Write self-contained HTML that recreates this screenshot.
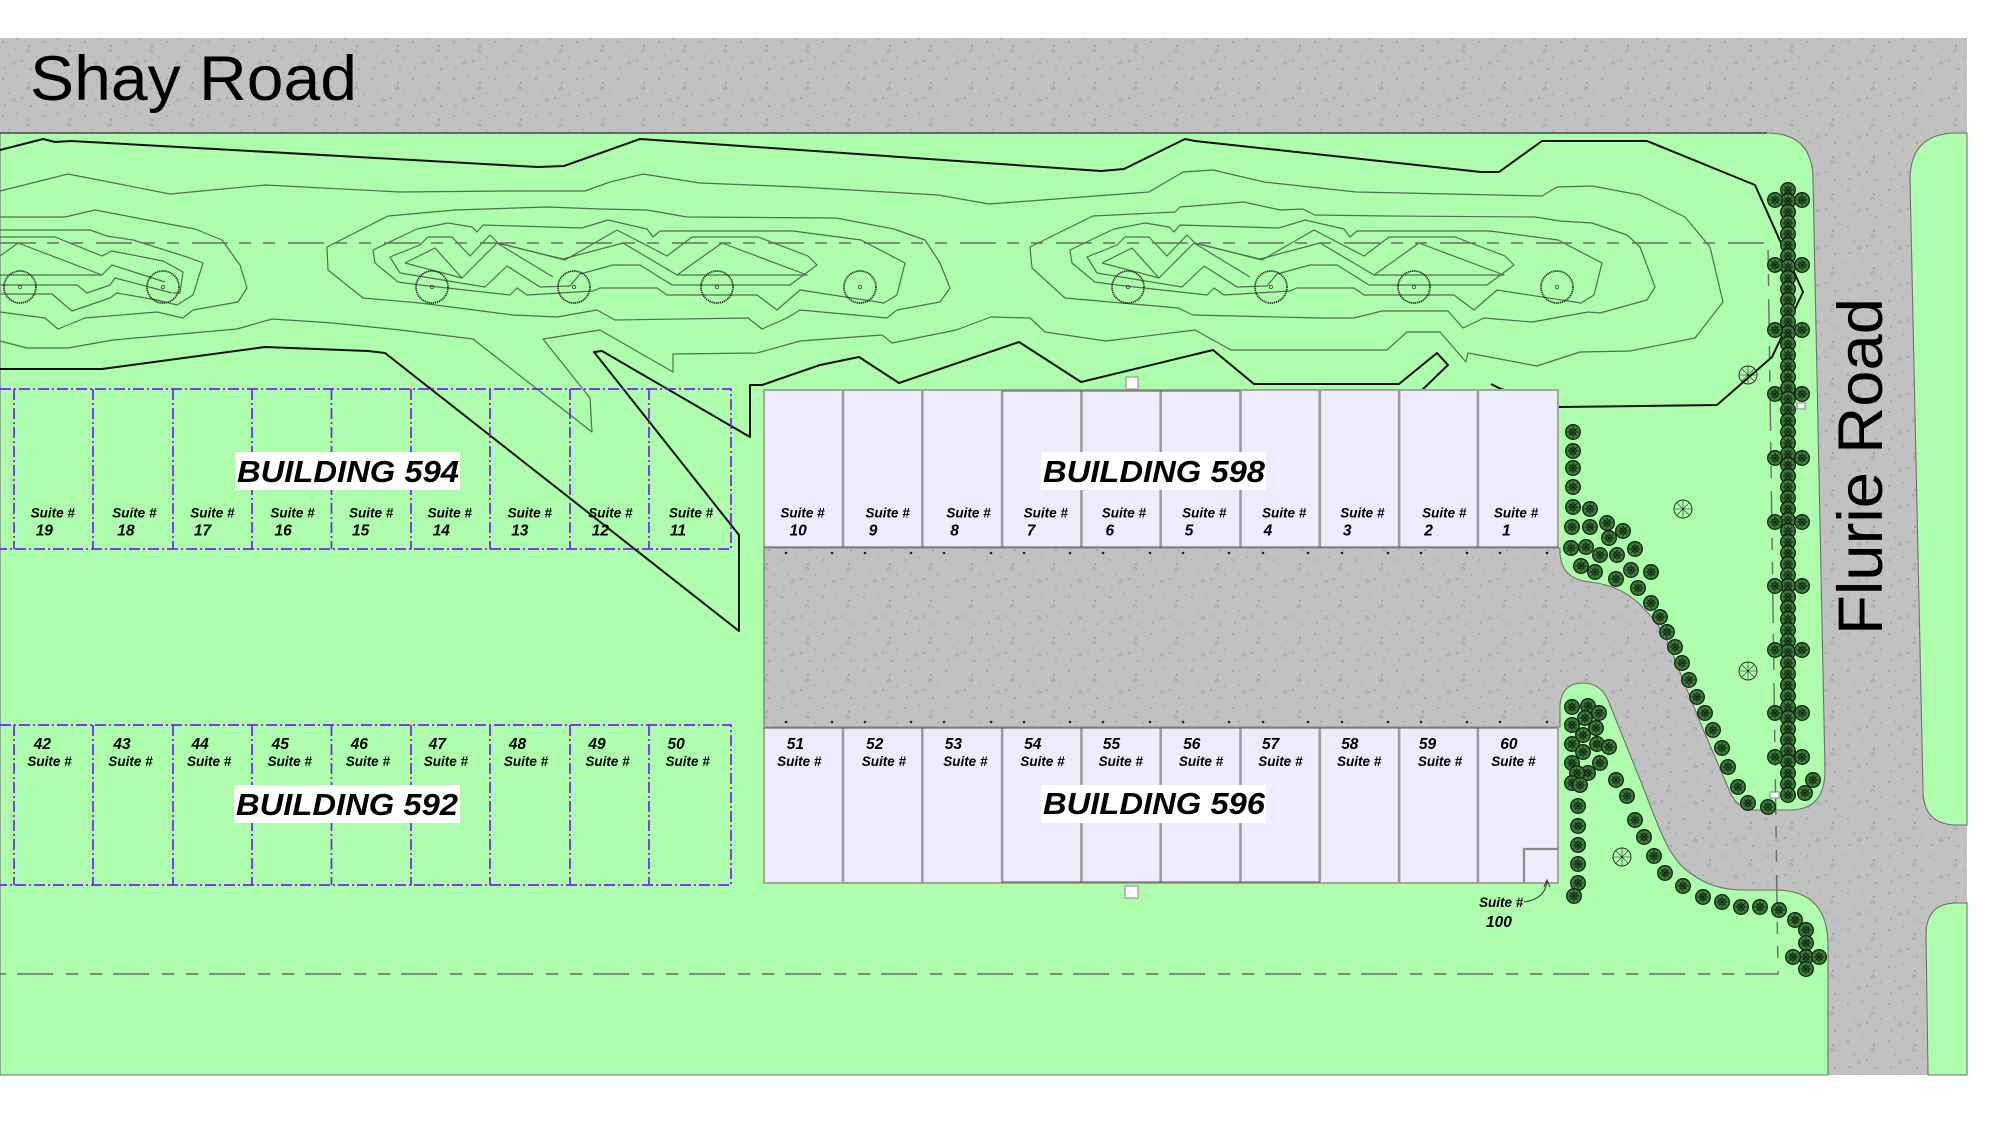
<!DOCTYPE html>
<html><head><meta charset="utf-8"><style>
html,body{margin:0;padding:0;background:#fff;}
svg{display:block;}
.c{fill:none;stroke:#4f6f4f;stroke-width:1.2;stroke-linejoin:round}
.t{fill:none;stroke:#111;stroke-width:2;stroke-linejoin:round}
.dd{fill:none;stroke:#7d1df2;stroke-width:1.7;stroke-dasharray:11 3 2 3}
.st{font-family:"Liberation Sans",Arial,sans-serif;font-weight:bold;font-style:italic;font-size:13.5px;fill:#000}
.nm{font-family:"Liberation Sans",Arial,sans-serif;font-weight:bold;font-style:italic;font-size:15.5px;fill:#000}
.bl{font-family:"Liberation Sans Narrow","Liberation Sans",Arial,sans-serif;font-weight:bold;font-style:italic;font-size:31px;fill:#000}
.rd{font-family:"Liberation Sans",Arial,sans-serif;font-size:63px;fill:#000}
</style></head><body>
<svg width="2000" height="1125" viewBox="0 0 2000 1125" xmlns="http://www.w3.org/2000/svg">
<defs>
<pattern id="sp" patternUnits="userSpaceOnUse" width="41" height="37">
<rect width="41" height="37" fill="#c1c1c1"/>
<g fill="#8e8e8e">
<circle cx="3" cy="5" r=".8"/><circle cx="17" cy="2" r=".6"/><circle cx="29" cy="9" r=".9"/><circle cx="9" cy="19" r=".6"/><circle cx="22" cy="24" r=".8"/><circle cx="36" cy="20" r=".6"/><circle cx="5" cy="31" r=".7"/><circle cx="31" cy="32" r=".8"/><circle cx="15" cy="12" r=".5"/><circle cx="38" cy="3" r=".5"/>
</g>
<g fill="none" stroke="#9a9a9a" stroke-width=".6"><path d="M12,27 l2,-3 l2,3z"/><path d="M26,15 l2,-3 l2,3z"/></g>
</pattern>
<g id="sh"><circle r="7.3" fill="#3f7c3f" stroke="#0c220c" stroke-width="1.3"/><circle r="3.2" fill="none" stroke="#0c220c" stroke-width=".9"/><path d="M-5.5,0H5.5M0,-5.5V5.5M-3.8,-3.8L3.8,3.8M-3.8,3.8L3.8,-3.8" stroke="#0c220c" stroke-width=".7"/></g>
<g id="ot"><circle r="9" fill="none" stroke="#222" stroke-width=".9"/><path d="M-9,0H9M0,-9V9M-6.4,-6.4L6.4,6.4M-6.4,6.4L6.4,-6.4" stroke="#222" stroke-width=".6"/></g>
<g id="bt"><circle r="16" fill="none" stroke="#222" stroke-width="1.7" stroke-dasharray="1.3 .8"/><circle r="1.6" fill="none" stroke="#333" stroke-width=".7"/></g>
<g id="b2">
<path class="c" d="M375,263 L373,250 L400,237 L417,229 L448,223 L472,227 L477,232 L483,225 L582,228 L608,220 L647,229 L653,237 L660,231 L793,231 L861,240 L905,263 L897,295 L884,303 L800,290 L777,310 L757,295 L667,295 L657,288 L600,288 L593,291 L527,295 L517,288 L510,295 L420,285 L398,282 Z"/>
<path class="c" d="M390,257 L420,245 L428,237 L452,237 L470,256 L490,235 L498,243 L565,260 L617,230 L667,256 L692,237 L758,237 L808,256 L817,265 L790,285 L672,285 L640,265 L613,265 L580,274 L570,286 L540,287 L507,266 L485,287 L400,273 Z"/>
<path class="c" d="M405,263 L435,248 L462,278 L497,243 L553,277 M405,263 L462,278 M497,243 L563,259 L623,243 L677,275 L722,243 L807,275 L677,275"/>
</g>
</defs>

<!-- road base -->
<rect x="0" y="38" width="1967" height="1037" fill="url(#sp)"/>

<!-- green areas -->
<g fill="#adfdad" stroke="#6f6f6f" stroke-width="1.1">
<path d="M0,133 H1767 Q1813,133 1813,180 L1825,770 Q1825,810 1790,810 H1755 Q1738,810 1730,792 L1700,722 L1675,660 Q1664,628 1645,610 Q1625,586 1590,582 Q1561,579 1560,553 V548 H764 V727 H1560 V705 Q1562,683 1583,683 Q1600,683 1608,700 L1643,787 C1658,825 1668,858 1690,873 C1705,884 1720,890 1745,890 H1777 Q1828,891 1828,945 V1075 H0 Z"/>
<path d="M1957,133 H1967 V825 H1957 Q1923,825 1923,790 L1910,180 Q1910,133 1957,133 Z"/>
<path d="M1967,903 V1075 H1928 L1926,935 Q1926,903 1957,903 Z"/>
</g>
<line x1="0" y1="133" x2="1767" y2="133" stroke="#444" stroke-width="1.5"/>

<!-- contours -->
<path class="c" d="M0,191 L68,174 L170,194 L265,185 L400,192 L507,191 L585,191 L610,182 L643,174 L700,183 L800,187 L938,195 L989,204 L1149,192 L1183,172 L1213,170 L1264,182 L1356,192 L1542,196 L1557,187 L1592,186 L1640,195 L1685,217 L1710,247 L1723,302 L1695,338 L1630,351 L1580,352 L1537,366 L1468,353 L1466,362 L1440,332 L1407,332 L1387,350 L1231,350 L1195,330 L1106,341 L1045,332 L1030,318 L991,317 L956,330 L892,343 L882,335 L800,341 L757,353 L673,354 L673,372 L600,330 L543,339 L590,398 L592,432 L473,339 L400,330 L333,323 L272,319 L237,329 L113,340 L68,348 L27,348 L0,341"/>
<path class="c" d="M0,217 L65,217 L95,210 L195,229 L222,240 L240,265 L247,288 L238,302 L193,310 L183,318 L157,312 L85,318 L58,329 L45,318 L0,312"/>
<path class="c" d="M0,230 L90,230 L107,236 L133,240 L187,257 L203,263 L193,295 L177,305 L157,300 L117,293 L110,298 L72,311 L52,294 L0,294"/>
<path class="c" d="M0,237 L55,237 L102,256 L112,251 L163,261 L183,272 L180,293 L173,293"/>
<path class="c" d="M0,285 L77,285 L87,293 L110,285 L115,278 L172,293"/>
<path class="c" d="M0,256 L18,243 L102,275 L112,265 L165,282 M0,275 L102,275"/>
<path class="c" d="M388,216 L455,210 L547,207 L600,209 L647,210 L687,217 L836,218 L894,229 L925,240 L940,263 L950,288 L940,302 L897,310 L887,318 L800,310 L787,318 L762,329 L748,318 L615,320 L597,310 L557,317 L513,315 L420,303 L363,298 L328,270 L327,247 Z"/>
<use href="#b2"/>
<path class="c" d="M1030,247 L1093,216 L1175,212 L1180,207 L1244,202 L1280,210 L1303,209 L1315,215 L1389,216 L1535,217 L1560,221 L1592,223 L1627,235 L1640,247 L1655,287 L1647,300 L1600,313 L1588,312 L1532,322 L1484,318 L1463,328 L1448,311 L1382,311 L1354,318 L1320,318 L1193,315 L1178,308 L1065,298 L1032,268 Z"/>
<use href="#b2" transform="translate(697,0)"/>

<!-- setback dashed -->
<path d="M0,243 H1768 L1778,974 H0" fill="none" stroke="#6a6a6a" stroke-width="1.4" stroke-dasharray="36 11 12 12 12 13"/>

<!-- thick lines -->
<path class="t" d="M0,150 L43,139 L55,142 L71,141 L538,167 L564,166 L640,139 L800,150 L1101,171 L1124,169 L1185,139 L1195,141 L1481,172 L1499,172 L1542,141 L1647,141 L1755,185 L1803,292 L1772,357 L1717,405 L1560,407 L1501,389 L1491,384"/>
<path class="t" d="M0,369 L102,369 L265,347 L368,351 L385,353 L739,631 L739,535 L594,352 L602,351 L750,437 L750,385 L762,385 L820,365 L859,357 L899,383 L1019,342 L1081,382 L1213,350 L1254,384 L1399,384 L1437,353 L1448,365 L1420,392"/>

<!-- berm trees -->
<g>
<use href="#bt" x="20" y="287"/><use href="#bt" x="163" y="287"/><use href="#bt" x="432" y="287"/><use href="#bt" x="574" y="287"/><use href="#bt" x="717" y="287"/><use href="#bt" x="860" y="287"/><use href="#bt" x="1128" y="287"/><use href="#bt" x="1271" y="287"/><use href="#bt" x="1414" y="287"/><use href="#bt" x="1557" y="287"/>
</g>

<!-- Building 594 outline -->
<path class="dd" d="M0,389 H731 V549 H0 M14,389 V549 M93,389 V549 M173,389 V549 M252,389 V549 M331.5,389 V549 M411,389 V549 M490,389 V549 M570,389 V549 M649,389 V549"/>
<!-- Building 592 outline -->
<path class="dd" d="M0,725 H731 V885 H0 M14,725 V885 M93,725 V885 M173,725 V885 M252,725 V885 M331.5,725 V885 M411,725 V885 M490,725 V885 M570,725 V885 M649,725 V885"/>

<!-- Building 598 -->
<rect x="764" y="390" width="794" height="158" fill="#ececfd" stroke="#a3a3a3" stroke-width="2"/>
<path d="M843,390V548M922.3,390V548M1002.1,390V548M1081.4,390V548M1160.7,390V548M1240.5,390V548M1319.8,390V548M1399.1,390V548M1477.9,390V548" stroke="#9c9c9c" stroke-width="2.6"/>
<path d="M1002,391H1240M764,547H1558" stroke="#555" stroke-width="1"/>
<!-- Building 596 -->
<rect x="764" y="727" width="794" height="156" fill="#ececfd" stroke="#a3a3a3" stroke-width="2"/>
<path d="M843,727V883M922.3,727V883M1002.1,727V883M1081.4,727V883M1160.7,727V883M1240.5,727V883M1319.8,727V883M1399.1,727V883M1477.9,727V883" stroke="#9c9c9c" stroke-width="2.6"/>
<path d="M1002,882H1320M764,728H1558" stroke="#555" stroke-width="1"/>
<path d="M1524,883 V849 H1558" fill="none" stroke="#8a8a8a" stroke-width="2.2"/>

<!-- parking dots -->
<g fill="#222">
<circle cx="786" cy="553" r="1.3"/><circle cx="832" cy="553" r="1.3"/><circle cx="865" cy="553" r="1.3"/><circle cx="911" cy="553" r="1.3"/><circle cx="944" cy="553" r="1.3"/><circle cx="991" cy="553" r="1.3"/><circle cx="1024" cy="553" r="1.3"/><circle cx="1070" cy="553" r="1.3"/><circle cx="1103" cy="553" r="1.3"/><circle cx="1150" cy="553" r="1.3"/><circle cx="1183" cy="553" r="1.3"/><circle cx="1229" cy="553" r="1.3"/><circle cx="1263" cy="553" r="1.3"/><circle cx="1308" cy="553" r="1.3"/><circle cx="1342" cy="553" r="1.3"/><circle cx="1388" cy="553" r="1.3"/><circle cx="1421" cy="553" r="1.3"/><circle cx="1467" cy="553" r="1.3"/><circle cx="1500" cy="553" r="1.3"/><circle cx="1547" cy="553" r="1.3"/>
<circle cx="786" cy="722" r="1.3"/><circle cx="832" cy="722" r="1.3"/><circle cx="865" cy="722" r="1.3"/><circle cx="911" cy="722" r="1.3"/><circle cx="944" cy="722" r="1.3"/><circle cx="991" cy="722" r="1.3"/><circle cx="1024" cy="722" r="1.3"/><circle cx="1070" cy="722" r="1.3"/><circle cx="1103" cy="722" r="1.3"/><circle cx="1150" cy="722" r="1.3"/><circle cx="1183" cy="722" r="1.3"/><circle cx="1229" cy="722" r="1.3"/><circle cx="1263" cy="722" r="1.3"/><circle cx="1308" cy="722" r="1.3"/><circle cx="1342" cy="722" r="1.3"/><circle cx="1388" cy="722" r="1.3"/><circle cx="1421" cy="722" r="1.3"/><circle cx="1467" cy="722" r="1.3"/><circle cx="1500" cy="722" r="1.3"/><circle cx="1547" cy="722" r="1.3"/>
</g>

<!-- white markers -->
<g fill="#fff" stroke="#888" stroke-width="1">
<rect x="1126" y="377" width="12" height="12"/><rect x="1125" y="886" width="13" height="12"/><rect x="1797" y="403" width="8" height="6"/><rect x="1770" y="792" width="9" height="6"/>
</g>

<!-- shrubs: Flurie column -->
<g>
<use href="#sh" x="1788" y="190"/><use href="#sh" x="1788" y="201"/><use href="#sh" x="1788" y="212"/><use href="#sh" x="1788" y="223"/><use href="#sh" x="1788" y="234"/><use href="#sh" x="1788" y="245"/><use href="#sh" x="1788" y="256"/><use href="#sh" x="1788" y="267"/><use href="#sh" x="1788" y="278"/><use href="#sh" x="1788" y="289"/><use href="#sh" x="1788" y="300"/><use href="#sh" x="1788" y="311"/><use href="#sh" x="1788" y="322"/><use href="#sh" x="1788" y="333"/><use href="#sh" x="1788" y="344"/><use href="#sh" x="1788" y="355"/><use href="#sh" x="1788" y="366"/><use href="#sh" x="1788" y="377"/><use href="#sh" x="1788" y="388"/><use href="#sh" x="1788" y="399"/><use href="#sh" x="1788" y="410"/><use href="#sh" x="1788" y="421"/><use href="#sh" x="1788" y="432"/><use href="#sh" x="1788" y="443"/><use href="#sh" x="1788" y="454"/><use href="#sh" x="1788" y="465"/><use href="#sh" x="1788" y="476"/><use href="#sh" x="1788" y="487"/><use href="#sh" x="1788" y="498"/><use href="#sh" x="1788" y="509"/><use href="#sh" x="1788" y="520"/><use href="#sh" x="1788" y="531"/><use href="#sh" x="1788" y="542"/><use href="#sh" x="1788" y="553"/><use href="#sh" x="1788" y="564"/><use href="#sh" x="1788" y="575"/><use href="#sh" x="1788" y="586"/><use href="#sh" x="1788" y="597"/><use href="#sh" x="1788" y="608"/><use href="#sh" x="1788" y="619"/><use href="#sh" x="1788" y="630"/><use href="#sh" x="1788" y="641"/><use href="#sh" x="1788" y="652"/><use href="#sh" x="1788" y="663"/><use href="#sh" x="1788" y="674"/><use href="#sh" x="1788" y="685"/><use href="#sh" x="1788" y="696"/><use href="#sh" x="1788" y="707"/><use href="#sh" x="1788" y="718"/><use href="#sh" x="1788" y="729"/><use href="#sh" x="1788" y="740"/><use href="#sh" x="1788" y="751"/><use href="#sh" x="1788" y="762"/><use href="#sh" x="1788" y="773"/><use href="#sh" x="1788" y="784"/><use href="#sh" x="1788" y="795"/>
<use href="#sh" x="1775" y="200"/><use href="#sh" x="1802" y="200"/><use href="#sh" x="1775" y="265"/><use href="#sh" x="1802" y="265"/><use href="#sh" x="1775" y="330"/><use href="#sh" x="1802" y="330"/><use href="#sh" x="1775" y="394"/><use href="#sh" x="1802" y="394"/><use href="#sh" x="1775" y="458"/><use href="#sh" x="1802" y="458"/><use href="#sh" x="1775" y="522"/><use href="#sh" x="1802" y="522"/><use href="#sh" x="1775" y="586"/><use href="#sh" x="1802" y="586"/><use href="#sh" x="1775" y="650"/><use href="#sh" x="1802" y="650"/><use href="#sh" x="1775" y="713"/><use href="#sh" x="1802" y="713"/><use href="#sh" x="1775" y="757"/><use href="#sh" x="1802" y="757"/>
</g>
<!-- shrubs: upper cluster along driveway -->
<g>
<use href="#sh" x="1573" y="432"/><use href="#sh" x="1573" y="451"/><use href="#sh" x="1573" y="468"/><use href="#sh" x="1573" y="487"/><use href="#sh" x="1573" y="507"/><use href="#sh" x="1590" y="509"/><use href="#sh" x="1572" y="527"/><use href="#sh" x="1590" y="527"/><use href="#sh" x="1607" y="523"/><use href="#sh" x="1623" y="531"/><use href="#sh" x="1609" y="538"/><use href="#sh" x="1571" y="548"/><use href="#sh" x="1586" y="547"/><use href="#sh" x="1600" y="555"/><use href="#sh" x="1617" y="555"/><use href="#sh" x="1635" y="549"/><use href="#sh" x="1581" y="566"/><use href="#sh" x="1595" y="572"/><use href="#sh" x="1616" y="579"/><use href="#sh" x="1631" y="570"/><use href="#sh" x="1651" y="572"/><use href="#sh" x="1638" y="588"/><use href="#sh" x="1651" y="603"/><use href="#sh" x="1660" y="617"/><use href="#sh" x="1667" y="632"/><use href="#sh" x="1675" y="647"/><use href="#sh" x="1682" y="663"/><use href="#sh" x="1689" y="680"/><use href="#sh" x="1697" y="697"/><use href="#sh" x="1705" y="713"/><use href="#sh" x="1713" y="730"/><use href="#sh" x="1722" y="748"/><use href="#sh" x="1728" y="767"/><use href="#sh" x="1738" y="787"/><use href="#sh" x="1748" y="803"/><use href="#sh" x="1768" y="807"/><use href="#sh" x="1805" y="793"/><use href="#sh" x="1813" y="780"/>
</g>
<!-- shrubs: lower lobe -->
<g>
<use href="#sh" x="1572" y="707"/><use href="#sh" x="1588" y="706"/><use href="#sh" x="1599" y="713"/><use href="#sh" x="1572" y="725"/><use href="#sh" x="1585" y="718"/><use href="#sh" x="1596" y="728"/><use href="#sh" x="1572" y="744"/><use href="#sh" x="1583" y="735"/><use href="#sh" x="1583" y="752"/><use href="#sh" x="1597" y="744"/><use href="#sh" x="1609" y="747"/><use href="#sh" x="1572" y="763"/><use href="#sh" x="1588" y="773"/><use href="#sh" x="1600" y="763"/><use href="#sh" x="1577" y="773"/><use href="#sh" x="1572" y="783"/><use href="#sh" x="1580" y="785"/><use href="#sh" x="1578" y="806"/><use href="#sh" x="1578" y="826"/><use href="#sh" x="1578" y="845"/><use href="#sh" x="1578" y="864"/><use href="#sh" x="1578" y="883"/><use href="#sh" x="1574" y="896"/>
<use href="#sh" x="1616" y="780"/><use href="#sh" x="1627" y="796"/><use href="#sh" x="1635" y="820"/><use href="#sh" x="1644" y="837"/><use href="#sh" x="1654" y="856"/><use href="#sh" x="1665" y="873"/><use href="#sh" x="1683" y="886"/><use href="#sh" x="1703" y="897"/><use href="#sh" x="1722" y="902"/><use href="#sh" x="1741" y="907"/><use href="#sh" x="1760" y="907"/><use href="#sh" x="1779" y="910"/><use href="#sh" x="1795" y="920"/><use href="#sh" x="1806" y="930"/><use href="#sh" x="1806" y="943"/><use href="#sh" x="1806" y="957"/><use href="#sh" x="1793" y="957"/><use href="#sh" x="1819" y="957"/><use href="#sh" x="1806" y="969"/>
</g>
<!-- open trees -->
<use href="#ot" x="1748" y="375"/><use href="#ot" x="1683" y="509"/><use href="#ot" x="1748" y="671"/><use href="#ot" x="1622" y="857"/>

<!-- road names -->
<text class="rd" x="30" y="100" textLength="327" lengthAdjust="spacingAndGlyphs">Shay Road</text>
<text class="rd" transform="translate(1882,635) rotate(-90)" textLength="337" lengthAdjust="spacingAndGlyphs">Flurie Road</text>

<!-- building labels -->
<rect x="235" y="452" width="225" height="38" fill="#fff"/>
<text class="bl" x="237" y="482" textLength="222" lengthAdjust="spacingAndGlyphs">BUILDING 594</text>
<rect x="1041" y="452" width="225" height="38" fill="#fff"/>
<text class="bl" x="1043" y="482" textLength="222" lengthAdjust="spacingAndGlyphs">BUILDING 598</text>
<rect x="234" y="785" width="226" height="38" fill="#fff"/>
<text class="bl" x="236" y="815" textLength="222" lengthAdjust="spacingAndGlyphs">BUILDING 592</text>
<rect x="1041" y="785" width="225" height="38" fill="#fff"/>
<text class="bl" x="1043" y="814" textLength="222" lengthAdjust="spacingAndGlyphs">BUILDING 596</text>

<!-- suite labels 594 -->
<g class="st">
<text x="30.6" y="517.5">Suite #</text><text x="112.2" y="517.5">Suite #</text><text x="190.3" y="517.5">Suite #</text><text x="270.4" y="517.5">Suite #</text><text x="349" y="517.5">Suite #</text><text x="427.6" y="517.5">Suite #</text><text x="507.6" y="517.5">Suite #</text><text x="588.3" y="517.5">Suite #</text><text x="668.9" y="517.5">Suite #</text>
</g>
<g class="nm">
<text x="35.7" y="535.5">19</text><text x="117.3" y="535.5">18</text><text x="193.9" y="535.5">17</text><text x="274.5" y="535.5">16</text><text x="352" y="535.5">15</text><text x="432.7" y="535.5">14</text><text x="511.2" y="535.5">13</text><text x="591.8" y="535.5">12</text><text x="669.9" y="535.5">11</text>
</g>
<!-- suite labels 598 -->
<g class="st">
<text x="780.4" y="517.5">Suite #</text><text x="865.5" y="517.5">Suite #</text><text x="946.4" y="517.5">Suite #</text><text x="1023.6" y="517.5">Suite #</text><text x="1101.8" y="517.5">Suite #</text><text x="1182.1" y="517.5">Suite #</text><text x="1262" y="517.5">Suite #</text><text x="1340.2" y="517.5">Suite #</text><text x="1422.1" y="517.5">Suite #</text><text x="1493.9" y="517.5">Suite #</text>
</g>
<g class="nm">
<text x="789.5" y="535.5">10</text><text x="868.7" y="535.5">9</text><text x="950.2" y="535.5">8</text><text x="1026.8" y="535.5">7</text><text x="1105.5" y="535.5">6</text><text x="1184.8" y="535.5">5</text><text x="1263.6" y="535.5">4</text><text x="1342.9" y="535.5">3</text><text x="1424.3" y="535.5">2</text><text x="1502" y="535.5">1</text>
</g>
<!-- suite labels 592 -->
<g class="nm">
<text x="33.8" y="749">42</text><text x="113.4" y="749">43</text><text x="191.5" y="749">44</text><text x="271.6" y="749">45</text><text x="350.7" y="749">46</text><text x="428.8" y="749">47</text><text x="508.9" y="749">48</text><text x="588.4" y="749">49</text><text x="667.5" y="749">50</text>
</g>
<g class="st">
<text x="27.4" y="766">Suite #</text><text x="108.4" y="766">Suite #</text><text x="187" y="766">Suite #</text><text x="267.6" y="766">Suite #</text><text x="345.7" y="766">Suite #</text><text x="423.8" y="766">Suite #</text><text x="503.9" y="766">Suite #</text><text x="585.4" y="766">Suite #</text><text x="665.5" y="766">Suite #</text>
</g>
<!-- suite labels 596 -->
<g class="nm">
<text x="786.8" y="749">51</text><text x="866.1" y="749">52</text><text x="944.8" y="749">53</text><text x="1024.1" y="749">54</text><text x="1102.9" y="749">55</text><text x="1183.2" y="749">56</text><text x="1262" y="749">57</text><text x="1341.2" y="749">58</text><text x="1418.9" y="749">59</text><text x="1500.3" y="749">60</text>
</g>
<g class="st">
<text x="777.1" y="766">Suite #</text><text x="861.8" y="766">Suite #</text><text x="943.2" y="766">Suite #</text><text x="1020.4" y="766">Suite #</text><text x="1098.6" y="766">Suite #</text><text x="1178.9" y="766">Suite #</text><text x="1258.2" y="766">Suite #</text><text x="1337" y="766">Suite #</text><text x="1417.9" y="766">Suite #</text><text x="1491.2" y="766">Suite #</text>
</g>
<!-- suite 100 -->
<text class="st" x="1479" y="907">Suite #</text>
<text class="nm" x="1486" y="927">100</text>
<path d="M1524,902 C1538,900 1546,893 1547,881 M1544,887 L1547,880 L1550,887" fill="none" stroke="#333" stroke-width="1"/>
</svg>
</body></html>
